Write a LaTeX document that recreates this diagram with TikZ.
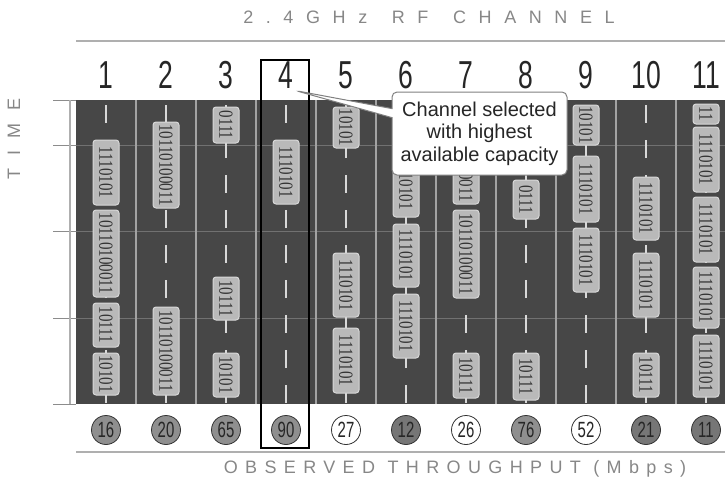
\documentclass[tikz,border=0pt]{standalone}
\usepackage{fontspec}
\setmainfont{Liberation Sans}
\newfontfamily\narrowFont[FakeStretch=0.68]{Liberation Sans}
\newfontfamily\bitFont[FakeStretch=0.75]{Liberation Serif}
\newfontfamily\wideCaptionFont[LetterSpace=70]{Liberation Sans}
\newfontfamily\tightCaptionFont[LetterSpace=41]{Liberation Sans}
\usetikzlibrary{positioning}
\usetikzlibrary{shapes.callouts}
\tikzstyle{canvas} = [x = 1pt, y = -1pt]
\definecolor{panelColor}{HTML}{474747}
\definecolor{dividerColor}{HTML}{A3A3A3}
\definecolor{bitFill}{HTML}{B9B9B9}
\definecolor{bitEdge}{HTML}{D8D8D8}
\definecolor{axisColor}{HTML}{AFAFAF}
\definecolor{captionColor}{HTML}{878787}
\definecolor{discMid}{HTML}{8F8F8F}
\definecolor{discDark}{HTML}{767676}
\tikzstyle{dividerLine} = [color=dividerColor, line width=1.5pt]
\tikzstyle{tickLine} = [color=axisColor!80!black, line width=0.8pt]
\tikzstyle{slotGrid} = [color=gray!75!panelColor, line width=0.8pt]
\tikzstyle{axisLine} = [color=axisColor, line width=1.5pt]
\tikzstyle{slotDash} = [color=bitEdge, line width=2pt, dash pattern=on 18pt off 17pt]
\tikzstyle{bitBox} = [rotate=-90, fill=bitFill, draw=bitEdge, line width=1pt, rounded corners=3pt, minimum height=26pt, inner sep=0pt, text=black!80, font=\bitFont\fontsize{20}{20}\selectfont]
\tikzstyle{channelNumber} = [inner sep=2pt, text=black!85, font=\narrowFont\fontsize{39}{39}\selectfont]
\tikzstyle{valueDisc} = [circle, draw=black!80, line width=0.8pt, minimum size=29pt, inner sep=0pt, text=black!85, font=\narrowFont\fontsize{22}{22}\selectfont]
\tikzstyle{wideCaption} = [text=captionColor, font=\wideCaptionFont\fontsize{18}{18}\selectfont]
\tikzstyle{tightCaption} = [text=captionColor, font=\tightCaptionFont\fontsize{18}{18}\selectfont]
\tikzstyle{pickBox} = [draw=black, line width=2.5pt]
\tikzstyle{noteStyle} = [rectangle callout, fill=white, draw=black!50, line width=1pt, rounded corners=5pt, minimum width=175pt, minimum height=83pt, align=center, inner sep=2pt, callout pointer width=9pt, text=black!85, font=\fontsize{20}{22.5}\selectfont]
\newcommand{\colCenter}[1]{46 + 60 * #1}
\newcommand{\bitBlock}[4]{
  \pgfmathsetmacro{\blockLength}{#3 - #2}
  \pgfmathsetmacro{\blockMid}{(#2 + #3) / 2}
  \node [bitBox, minimum width = \blockLength pt] (bits-#1-#2) at ({\colCenter{#1}}, \blockMid) {#4};
}
\begin{document}
\begin{tikzpicture}[canvas]
  \useasboundingbox (0, 0) rectangle (725, 485);
  \fill [panelColor] (76, 100) rectangle (725, 404);
  \foreach \t in {100, 145, 231, 318, 404} {
    \draw [tickLine] (53, \t) -- (76, \t);
  }
  \foreach \t in {145, 231, 318} {
    \draw [slotGrid] (76, \t) -- (725, \t);
  }
  \draw [axisLine] (70, 100) -- (70, 404);
  \foreach \k in {1,...,10} {
    \draw [dividerLine] ({76 + 60 * \k}, 100) -- ({76 + 60 * \k}, 404);
  }
  \foreach \ch in {1,...,11} {
    \draw [slotDash] ({\colCenter{\ch}}, 105) -- ({\colCenter{\ch}}, 404);
  }
  \bitBlock{1}{140}{205}{1110101}\bitBlock{1}{210}{297}{10110100011}\bitBlock{1}{303}{347}{10111}\bitBlock{1}{353}{395}{10101}
  \bitBlock{2}{122}{208}{10110100011}\bitBlock{2}{307}{395}{10110100011}
  \bitBlock{3}{107}{143}{0111}\bitBlock{3}{277}{320}{10111}\bitBlock{3}{353}{397}{10101}
  \bitBlock{4}{140}{204}{1110101}
  \bitBlock{5}{107}{148}{10101}\bitBlock{5}{253}{317}{1110101}\bitBlock{5}{328}{393}{1110101}
  \bitBlock{6}{151}{217}{1110101}\bitBlock{6}{224}{287}{1110101}\bitBlock{6}{294}{358}{1110101}
  \bitBlock{7}{118}{204}{10110100011}\bitBlock{7}{210}{298}{10110100011}\bitBlock{7}{353}{398}{10111}
  \bitBlock{8}{180}{219}{0111}\bitBlock{8}{353}{400}{10111}
  \bitBlock{9}{105}{145}{10101}\bitBlock{9}{156}{222}{1110101}\bitBlock{9}{228}{292}{1110101}
  \bitBlock{10}{177}{240}{1110101}\bitBlock{10}{253}{317}{1110101}\bitBlock{10}{353}{397}{10111}
  \bitBlock{11}{104}{124}{11}\bitBlock{11}{127}{192}{1110101}\bitBlock{11}{197}{262}{1110101}\bitBlock{11}{267}{328}{1110101}\bitBlock{11}{335}{397}{1110101}
  \draw [axisLine] (76, 41) -- (725, 41);
  \draw [axisLine] (76, 452) -- (725, 452);
  \node [wideCaption] (bandTitle) at (429, 17) {2.4GHz\hspace{7pt} RF\hspace{7pt} CHANNEL};
  \node [tightCaption] (rateTitle) at (455, 469) {OBSERVED THROUGHPUT (Mbps)};
  \node [wideCaption, rotate=90] (timeTitle) at (14, 139) {TIME};
  \foreach \ch in {1,...,11} {
    \node [channelNumber] (ch-\ch) at ({\colCenter{\ch}}, 75) {\ch};
  }
  \foreach \ch/\mbps/\tone in {1/16/discMid, 2/20/discMid, 3/65/discMid, 4/90/discMid, 5/27/white, 6/12/discDark, 7/26/white, 8/76/discMid, 9/52/white, 10/21/discDark, 11/11/discDark} {
    \node [valueDisc, fill=\tone] (mbps-\ch) at ({\colCenter{\ch}}, 430) {\mbps};
  }
  \draw [pickBox] (261, 60) rectangle (309, 448);
  \node [noteStyle, callout absolute pointer={(ch-4.south east)}] (note) at (479.5, 133.5) {Channel selected\\with highest\\available capacity};
\end{tikzpicture}
\end{document}
